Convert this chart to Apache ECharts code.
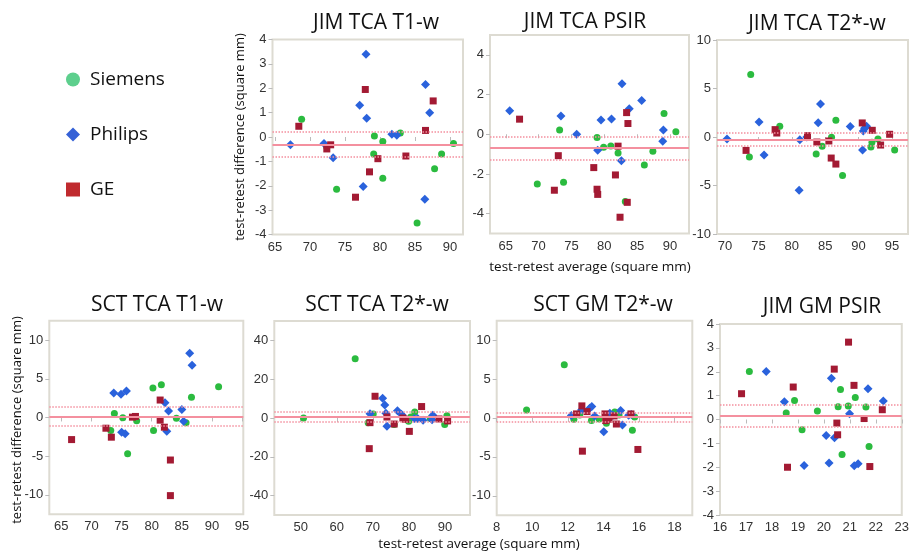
<!DOCTYPE html>
<html><head><meta charset="utf-8">
<script src="https://cdn.jsdelivr.net/npm/echarts@6/dist/echarts.min.js"></script>
<style>html,body{margin:0;padding:0;background:#fff}#c{width:912px;height:552px}</style>
</head><body><div id="c"></div>
<script>
// ---------- DATA ----------
const seriesNames = ['Siemens', 'Philips', 'GE'];
const panelTitles = ['JIM TCA T1-w', 'JIM TCA PSIR', 'JIM TCA T2*-w', 'SCT TCA T1-w', 'SCT TCA T2*-w', 'SCT GM T2*-w', 'JIM GM PSIR'];
const yAxisTitle = 'test-retest difference (square mm)';
const xAxisTitle = 'test-retest average (square mm)';

// tick labels
const xTicks1 = [65, 70, 75, 80, 85, 90];
const yTicks1 = [-4, -3, -2, -1, 0, 1, 2, 3, 4];
const xTicks2 = [65, 70, 75, 80, 85, 90];
const yTicks2 = [-4, -2, 0, 2, 4];
const xTicks3 = [70, 75, 80, 85, 90, 95];
const yTicks3 = [-10, -5, 0, 5, 10];
const xTicks4 = [65, 70, 75, 80, 85, 90, 95];
const yTicks4 = [-10, -5, 0, 5, 10];
const xTicks5 = [50, 60, 70, 80, 90];
const yTicks5 = [-40, -20, 0, 20, 40];
const xTicks6 = [8, 10, 12, 14, 16, 18];
const yTicks6 = [-10, -5, 0, 5, 10];
const xTicks7 = [16, 17, 18, 19, 20, 21, 22, 23];
const yTicks7 = [-4, -3, -2, -1, 0, 1, 2, 3, 4];

// Panel 1: JIM TCA T1-w  [average, difference]
const p1Siemens = [[68.8,0.73],[72.4,-0.41],[73.8,-2.14],[79.2,0.04],[79.1,-0.7],[80.4,-0.18],[80.4,-1.69],[82.9,0.16],[85.3,-3.53],[87.8,-1.3],[88.8,-0.7],[90.5,-0.27]];
const p1Philips = [[67.2,-0.32],[72.0,-0.27],[73.3,-0.85],[77.1,1.3],[78.0,3.4],[78.1,0.77],[77.6,-2.03],[81.7,0.11],[82.4,0.07],[86.5,2.15],[87.1,1.0],[86.4,-2.55]];
const p1GE = [[68.4,0.44],[72.4,-0.49],[72.95,-0.32],[77.9,1.95],[76.5,-2.47],[78.5,-1.43],[79.7,-0.89],[83.7,-0.78],[86.5,0.27],[87.6,1.48]];
const p1Lines = [-0.30, 0.21, -0.80]; // mean, upper, lower

// Panel 2: JIM TCA PSIR
const p2Siemens = [[69.8,-2.50],[73.2,0.22],[73.8,-2.42],[78.9,-0.17],[79.9,-0.66],[81.0,-0.59],[82.1,-0.94],[83.2,-3.39],[86.1,-1.55],[87.4,-0.86],[89.1,1.04],[90.9,0.12]];
const p2Philips = [[65.6,1.18],[73.4,0.92],[75.8,0],[79.5,0.72],[81.1,0.77],[79.0,-0.81],[82.7,2.54],[82.6,-1.34],[83.8,1.28],[85.7,1.70],[89.0,0.22],[88.9,-0.35]];
const p2GE = [[67.1,0.76],[73.0,-1.08],[72.4,-2.82],[78.4,-1.68],[78.9,-2.77],[79.0,-3.03],[82.1,-0.6],[81.7,-2.05],[83.4,1.09],[83.6,0.54],[82.4,-4.18],[83.5,-3.43]];
const p2Lines = [-0.67, -0.12, -1.26];

// Panel 3: JIM TCA T2*-w
const p3Siemens = [[73.85,6.44],[73.65,-2.07],[78.2,1.10],[83.65,-1.76],[84.55,-0.96],[85.95,-0.03],[86.6,1.72],[87.6,-3.96],[91.85,-1.03],[92.0,-0.55],[92.9,-0.21],[95.4,-1.34]];
const p3Philips = [[70.3,-0.2],[75.1,1.55],[75.85,-1.86],[81.2,-0.28],[81.1,-5.5],[82.25,0],[83.95,1.48],[84.3,3.41],[88.75,1.07],[90.6,-1.34],[90.7,0.62],[90.9,0.9],[91.2,1.1]];
const p3GE = [[73.15,-1.38],[77.5,0.76],[77.75,0.41],[82.35,0.14],[83.75,-0.52],[85.55,-0.41],[85.9,-2.17],[86.6,-2.79],[90.55,1.45],[92.05,0.69],[93.3,-0.83],[94.65,0.28]];
const p3Lines = [-0.28, 0.48, -0.9];

// Panel 4: SCT TCA T1-w
const p4Siemens = [[73.2,-1.69],[73.8,0.52],[75.2,-0.04],[76.0,-4.68],[77.5,-0.43],[80.2,3.81],[80.3,-1.69],[81.6,4.24],[84.1,-0.09],[85.7,-0.69],[86.6,2.6],[91.1,3.98]];
const p4Philips = [[73.7,3.16],[74.9,2.99],[75.8,3.42],[75.0,-1.9],[75.6,-2.12],[82.2,1.9],[82.5,-1.77],[82.8,0.82],[85.0,1.04],[85.3,-0.48],[86.3,8.3],[86.7,6.75]];
const p4GE = [[66.7,-2.86],[72.4,-1.39],[73.3,-2.55],[76.8,0.04],[77.3,0.13],[81.4,2.25],[81.4,-0.35],[82.1,-1.26],[83.1,-5.5],[83.1,-10.1]];
const p4Lines = [0.13, 1.34, -1.08];

// Panel 5: SCT TCA T2*-w
const p5Siemens = [[50.8,0],[65.1,30.6],[68.7,-2.4],[70.1,2.1],[75.9,-3.3],[79.9,-1.7],[80.5,0.5],[81.6,3.1],[85.9,-0.2],[89.9,-3.4],[90.5,1.2]];
const p5Philips = [[69.2,2.2],[72.7,10.2],[73.3,6.7],[73.6,2.4],[73.9,-4.3],[76.8,3.8],[77.9,1.9],[78.5,0.5],[81.5,-0.3],[82.4,-0.3],[83.9,-1.2],[86.6,1.4],[86.4,-0.9]];
const p5GE = [[70.6,11.2],[69.0,-15.8],[69.2,-2.4],[73.9,0.5],[78.3,0],[79.1,-0.7],[80.1,-6.9],[83.5,5.9],[88.3,-0.5],[90.7,-1.5],[75.9,-3.1]];
const p5Lines = [0.7, 3.1, -1.7];

// Panel 6: SCT GM T2*-w
const p6Siemens = [[9.68,1.03],[11.8,6.85],[12.34,-0.17],[12.67,0.39],[13.33,-0.34],[13.76,-0.13],[14.17,-0.69],[14.64,0.78],[14.88,0.39],[15.63,-1.59],[15.76,0.13]];
const p6Philips = [[12.2,0.3],[12.77,1.03],[13.23,1.25],[13.35,1.47],[13.51,0.26],[14.02,-1.77],[14.36,0.6],[14.54,0.34],[14.97,0.95],[15.07,-0.91],[15.42,0.34],[15.57,0.43]];
const p6GE = [[12.49,0.52],[12.79,1.55],[13.08,0.82],[12.82,-4.27],[14.09,0.52],[14.13,-0.34],[14.32,-0.17],[14.6,0.26],[14.73,-0.78],[15.55,0.52],[15.94,-4.05]];
const p6Lines = [0.09, 0.69, -0.52];

// Panel 7: JIM GM PSIR
const p7Siemens = [[17.13,2.01],[18.55,0.27],[18.87,0.8],[19.16,-0.43],[19.75,0.36],[20.55,0.53],[20.64,1.26],[20.7,-1.47],[20.94,0.57],[21.21,0.92],[21.62,0.52],[21.74,-1.13]];
const p7Philips = [[17.78,2.01],[18.48,0.74],[19.24,-1.93],[20.09,-0.67],[20.2,-1.82],[20.29,1.73],[20.41,-0.76],[20.99,0.24],[21.17,-1.94],[21.32,-1.85],[21.7,1.29],[22.29,0.78]];
const p7GE = [[16.83,1.08],[18.82,1.36],[18.6,-2.0],[20.4,2.11],[20.5,-0.15],[20.53,-0.64],[20.95,3.24],[21.16,1.43],[21.55,0.04],[21.77,-1.97],[22.25,0.41]];
const p7Lines = [0.17, 0.62, -0.29];

// ---------- LAYOUT / STYLE ----------
const panelData = [
  [p1Siemens, p1Philips, p1GE, p1Lines, xTicks1, yTicks1],
  [p2Siemens, p2Philips, p2GE, p2Lines, xTicks2, yTicks2],
  [p3Siemens, p3Philips, p3GE, p3Lines, xTicks3, yTicks3],
  [p4Siemens, p4Philips, p4GE, p4Lines, xTicks4, yTicks4],
  [p5Siemens, p5Philips, p5GE, p5Lines, xTicks5, yTicks5],
  [p6Siemens, p6Philips, p6GE, p6Lines, xTicks6, yTicks6],
  [p7Siemens, p7Philips, p7GE, p7Lines, xTicks7, yTicks7]
];
const layout = [
  {left:272.5, top:39.5, width:190.5, height:195, xr:[64.64,91.86], yr:[-4,4], tx:376, ty:23},
  {left:490, top:35, width:199, height:198.5, xr:[62.6,92.9], yr:[-5,5], tx:585, ty:22},
  {left:717, top:40, width:191, height:194, xr:[68.8,97.4], yr:[-10,10], tx:817, ty:24},
  {left:49.3, top:320.7, width:194, height:193.5, xr:[63,95.2], yr:[-12.5,12.5], tx:157, ty:305},
  {left:274.3, top:321, width:195.7, height:194, xr:[42.7,96.9], yr:[-50,50], tx:377, ty:305},
  {left:496.7, top:320.7, width:195.6, height:194.5, xr:[8,19], yr:[-12.5,12.5], tx:603, ty:305},
  {left:720, top:324, width:190, height:191, xr:[16,23], yr:[-4,4], tx:822, ty:307}
];
const colors = ['#2bbb3f', '#2a62dc', '#a31a33'];
const symbols = ['circle', 'diamond', 'rect'];
const sizes = [7, [9, 9], 7];
const pink = '#f4909f';

const grids = [], xAxes = [], yAxes = [], series = [], graphics = [];
const tickFont = 'Liberation Sans, Arial, sans-serif';
layout.forEach((L, i) => {
  const [s, p, g, lines, xt, yt] = panelData[i];
  grids.push({left:L.left, top:L.top, width:L.width, height:L.height, show:true, borderColor:'#dddbd2', borderWidth:2, backgroundColor:'#fff'});
  xAxes.push({gridIndex:i, type:'value', min:L.xr[0], max:L.xr[1],
    axisLine:{show:false}, splitLine:{show:false},
    axisTick:{show:true, customValues:xt, length:4, lineStyle:{color:'#bbb'}},
    axisLabel:{customValues:xt, fontSize:13, color:'#333', fontFamily:tickFont, margin:6}});
  yAxes.push({gridIndex:i, type:'value', min:L.yr[0], max:L.yr[1],
    axisLine:{show:false}, splitLine:{show:false},
    axisTick:{show:true, customValues:yt, length:4, lineStyle:{color:'#bbb'}},
    axisLabel:{customValues:yt, fontSize:13, color:'#333', fontFamily:tickFont, margin:6}});
  series.push({type:'scatter', xAxisIndex:i, yAxisIndex:i, data:[], silent:true, z:1,
    markLine:{symbol:['none','none'], silent:true, animation:false, label:{show:false},
      data:[
        {yAxis:lines[0], lineStyle:{type:'solid', width:2, color:pink}},
        {yAxis:lines[1], lineStyle:{type:'dotted', width:1.5, color:pink}},
        {yAxis:lines[2], lineStyle:{type:'dotted', width:1.5, color:pink}}
      ]}});
  [s, p, g].forEach((d, b) => {
    series.push({type:'scatter', name:seriesNames[b], xAxisIndex:i, yAxisIndex:i, data:d,
      symbol:symbols[b], symbolSize:sizes[b], z:3, itemStyle:{color:colors[b], opacity:1}});
  });
  graphics.push({type:'text', x:L.tx, y:L.ty, style:{text:panelTitles[i], font:'21px "Open Sans", sans-serif', fill:'#111', textAlign:'center', textVerticalAlign:'middle'}});
});
graphics.push({type:'text', x:240, y:137, rotation:Math.PI/2, style:{text:yAxisTitle, font:'13px "Open Sans", sans-serif', fill:'#111', textAlign:'center', textVerticalAlign:'middle'}});
graphics.push({type:'text', x:17, y:420, rotation:Math.PI/2, style:{text:yAxisTitle, font:'13px "Open Sans", sans-serif', fill:'#111', textAlign:'center', textVerticalAlign:'middle'}});
graphics.push({type:'text', x:590, y:267, style:{text:xAxisTitle, font:'13.5px "Open Sans", sans-serif', fill:'#111', textAlign:'center', textVerticalAlign:'middle'}});
graphics.push({type:'text', x:479, y:544, style:{text:xAxisTitle, font:'13.5px "Open Sans", sans-serif', fill:'#111', textAlign:'center', textVerticalAlign:'middle'}});

const chart = echarts.init(document.getElementById('c'), null, {renderer:'canvas'});
chart.setOption({
  animation:false,
  backgroundColor:'#fff',
  legend:{orient:'vertical', left:61, top:65, itemGap:36, itemWidth:14, itemHeight:14,
    textStyle:{fontSize:19, fontFamily:'Open Sans', color:'#111', padding:[0,0,0,5]},
    data:[
      {name:'Siemens', icon:'circle', itemStyle:{color:'#5dcf8d'}},
      {name:'Philips', icon:'diamond', itemStyle:{color:'#3561d6'}},
      {name:'GE', icon:'rect', itemStyle:{color:'#c02a2e'}}
    ]},
  grid:grids, xAxis:xAxes, yAxis:yAxes, series:series, graphic:graphics
});
</script></body></html>
